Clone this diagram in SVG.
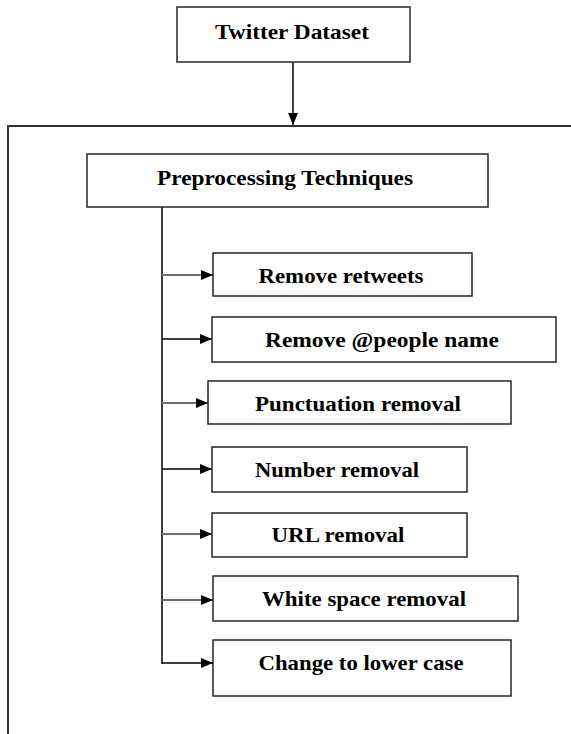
<svg xmlns="http://www.w3.org/2000/svg" width="571" height="734" viewBox="0 0 571 734">
  <style>
    .box { fill: #ffffff; stroke: #262626; stroke-width: 1.5; }
    .lbl { font-family: "Liberation Serif", "Times New Roman", serif; font-weight: bold; font-size: 22px; fill: #000000; text-anchor: middle; }
    .line { fill: none; stroke: #000000; stroke-width: 1.5; }
    .gray { stroke: #6e6e6e; stroke-width: 2.2; }
    .frame { fill: none; stroke: #333333; stroke-width: 2; }
  </style>
  <defs>
    <marker id="arr" markerUnits="userSpaceOnUse" markerWidth="13" markerHeight="11" refX="12" refY="5.5" orient="auto">
      <path d="M0,0.5 L12,5.5 L0,10.5 Z" fill="#000000"/>
    </marker>
  </defs>
  <rect width="571" height="734" fill="#ffffff"/>

  <g id="container">
    <path class="frame" d="M8,734 L8,126 L571,126"/>
  </g>

  <g id="connectors">
    <line class="line" x1="293" y1="62" x2="293" y2="125" marker-end="url(#arr)"/>
    <line class="line" x1="162" y1="207" x2="162" y2="664"/>
    <line class="line gray" x1="162" y1="275" x2="213" y2="275" marker-end="url(#arr)"/>
    <line class="line" x1="162" y1="339" x2="212" y2="339" marker-end="url(#arr)"/>
    <line class="line gray" x1="162" y1="403" x2="208" y2="403" marker-end="url(#arr)"/>
    <line class="line" x1="162" y1="469" x2="212" y2="469" marker-end="url(#arr)"/>
    <line class="line gray" x1="162" y1="534" x2="212" y2="534" marker-end="url(#arr)"/>
    <line class="line gray" x1="162" y1="600" x2="213" y2="600" marker-end="url(#arr)"/>
    <line class="line" x1="162" y1="663" x2="213" y2="663" marker-end="url(#arr)"/>
  </g>

  <g id="twitter-dataset">
    <rect class="box" x="177" y="7" width="233" height="55"/>
    <text class="lbl" x="292" y="39" textLength="154" lengthAdjust="spacingAndGlyphs">Twitter Dataset</text>
  </g>

  <g id="preprocessing">
    <rect class="box" x="87" y="154" width="401" height="53"/>
    <text class="lbl" x="285" y="185" textLength="256" lengthAdjust="spacingAndGlyphs">Preprocessing Techniques</text>
  </g>

  <g id="remove-retweets">
    <rect class="box" x="213" y="253" width="259" height="43"/>
    <text class="lbl" x="341" y="283" textLength="165" lengthAdjust="spacingAndGlyphs">Remove retweets</text>
  </g>

  <g id="remove-people">
    <rect class="box" x="212" y="317" width="344" height="45"/>
    <text class="lbl" x="382" y="347" textLength="234" lengthAdjust="spacingAndGlyphs">Remove @people name</text>
  </g>

  <g id="punctuation">
    <rect class="box" x="208" y="381" width="303" height="43"/>
    <text class="lbl" x="358" y="411" textLength="206" lengthAdjust="spacingAndGlyphs">Punctuation removal</text>
  </g>

  <g id="number">
    <rect class="box" x="212" y="447" width="255" height="45"/>
    <text class="lbl" x="337" y="477" textLength="164" lengthAdjust="spacingAndGlyphs">Number removal</text>
  </g>

  <g id="url">
    <rect class="box" x="212" y="513" width="255" height="44"/>
    <text class="lbl" x="338" y="542" textLength="133" lengthAdjust="spacingAndGlyphs">URL removal</text>
  </g>

  <g id="whitespace">
    <rect class="box" x="213" y="576" width="305" height="45"/>
    <text class="lbl" x="364" y="606" textLength="204" lengthAdjust="spacingAndGlyphs">White space removal</text>
  </g>

  <g id="lowercase">
    <rect class="box" x="213" y="640" width="298" height="56"/>
    <text class="lbl" x="361" y="670" textLength="205" lengthAdjust="spacingAndGlyphs">Change to lower case</text>
  </g>
</svg>
